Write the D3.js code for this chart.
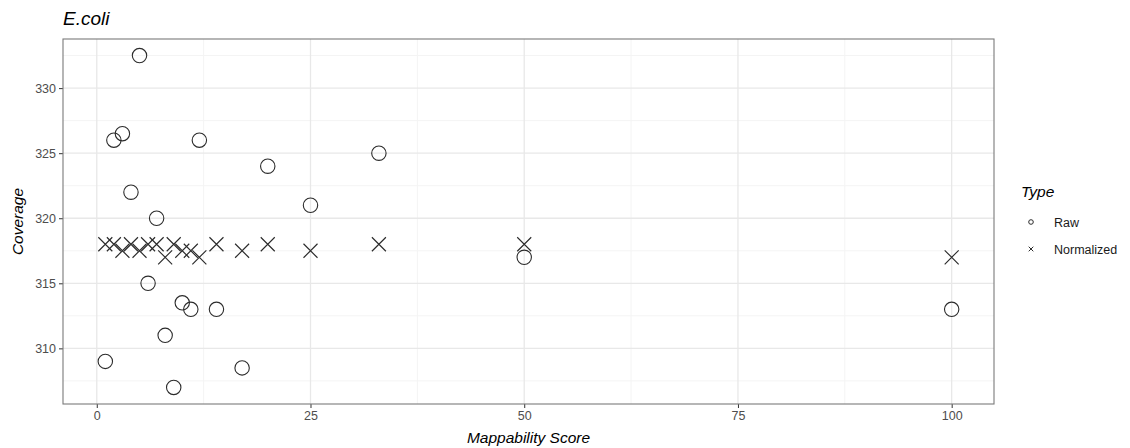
<!DOCTYPE html>
<html><head><meta charset="utf-8">
<script src="https://cdn.jsdelivr.net/npm/d3@7"></script>
<style>body{margin:0;background:#fff}svg{display:block;font-family:"Liberation Sans",Arial,sans-serif}</style>
</head><body><svg id="c" width="1130" height="448"></svg>
<script>
const scores = [1,2,3,4,5,6,7,8,9,10,11,12,14,17,20,25,33,50,100];
const rawCoverage = [309,326,326.5,322,332.5,315,320,311,307,313.5,313,326,313,308.5,324,321,325,317,313];
const normCoverage = [318,318,317.5,318,317.5,318,318,317,318,317.5,317.5,317,318,317.5,318,317.5,318,318,317];
const xTicks = [0,25,50,75,100];
const yTicks = [310,315,320,325,330];
const xMinor = [12.5,37.5,62.5,87.5];
const yMinor = [307.5,312.5,317.5,322.5,327.5,332.5];
const types = ["Raw","Normalized"];

const svg = d3.select("#c");
const L=63, R=994, T=39, B=404;
const xs=d3.extent(scores), xp=(xs[1]-xs[0])*0.05;
const allY=rawCoverage.concat(normCoverage), ye=d3.extent(allY), yp=(ye[1]-ye[0])*0.05;
const x=d3.scaleLinear().domain([xs[0]-xp,xs[1]+xp]).range([L,R]);
const y=d3.scaleLinear().domain([ye[0]-yp,ye[1]+yp]).range([B,T]);

const g=svg.append("g");
g.selectAll(".xm").data(xMinor).join("line").attr("x1",d=>x(d)).attr("x2",d=>x(d)).attr("y1",T).attr("y2",B).attr("stroke","#f4f4f4").attr("stroke-width",1);
g.selectAll(".ym").data(yMinor).join("line").attr("y1",d=>y(d)).attr("y2",d=>y(d)).attr("x1",L).attr("x2",R).attr("stroke","#f4f4f4").attr("stroke-width",1);
g.selectAll(".xM").data(xTicks).join("line").attr("x1",d=>x(d)).attr("x2",d=>x(d)).attr("y1",T).attr("y2",B).attr("stroke","#e8e8e8").attr("stroke-width",1.3);
g.selectAll(".yM").data(yTicks).join("line").attr("y1",d=>y(d)).attr("y2",d=>y(d)).attr("x1",L).attr("x2",R).attr("stroke","#e8e8e8").attr("stroke-width",1.3);

// axes
const xa=svg.append("g").attr("transform",`translate(0,${B})`).call(d3.axisBottom(x).tickValues(xTicks).tickSize(4).tickPadding(3).tickFormat(d3.format("d")));
const ya=svg.append("g").attr("transform",`translate(${L},0)`).call(d3.axisLeft(y).tickValues(yTicks).tickSize(4).tickPadding(3).tickFormat(d3.format("d")));
[xa,ya].forEach(a=>{a.select(".domain").remove();a.selectAll(".tick line").attr("stroke","#333");a.selectAll("text").attr("fill","#4d4d4d").style("font-size","12.5px").style("font-family","'Liberation Sans',Arial,sans-serif");});

// points
const pts=svg.append("g");
pts.selectAll("circle").data(scores).join("circle").attr("cx",d=>x(d)).attr("cy",(d,i)=>y(rawCoverage[i])).attr("r",7.2).attr("fill","none").attr("stroke","#2b2b2b").attr("stroke-width",1.1);
const s=7;
const cross=(sel,sz)=>sel.attr("d",`M${-sz},${-sz}L${sz},${sz}M${-sz},${sz}L${sz},${-sz}`);
pts.selectAll("path").data(scores).join("path").attr("transform",(d,i)=>`translate(${x(d)},${y(normCoverage[i])})`).call(cross,s).attr("fill","none").attr("stroke","#2b2b2b").attr("stroke-width",1.15);

// border
svg.append("rect").attr("x",L).attr("y",T).attr("width",R-L).attr("height",B-T).attr("fill","none").attr("stroke","#7a7a7a").attr("stroke-width",1.1);

// titles
svg.append("text").attr("x",L).attr("y",25).text("E.coli").style("font-size","19px").style("font-style","italic").attr("fill","#000");
svg.append("text").attr("x",(L+R)/2).attr("y",443).attr("text-anchor","middle").text("Mappability Score").style("font-size","15.5px").style("font-style","italic");
svg.append("text").attr("transform",`translate(23,${(T+B)/2}) rotate(-90)`).attr("text-anchor","middle").text("Coverage").style("font-size","15.5px").style("font-style","italic");

// legend
const lg=svg.append("g");
lg.append("text").attr("x",1021).attr("y",197).text("Type").style("font-size","15.5px").style("font-style","italic");
const ly=[222,249];
lg.selectAll(".lc").data(types).join("text").attr("x",1054).attr("y",(d,i)=>ly[i]+4.5).text(d=>d).style("font-size","12.5px").attr("fill","#1a1a1a");
lg.append("circle").attr("cx",1031).attr("cy",ly[0]).attr("r",2.3).attr("fill","none").attr("stroke","#2b2b2b").attr("stroke-width",1);
lg.append("path").attr("transform",`translate(1031,${ly[1]})`).call(cross,2.3).attr("fill","none").attr("stroke","#2b2b2b").attr("stroke-width",1);
</script></body></html>
